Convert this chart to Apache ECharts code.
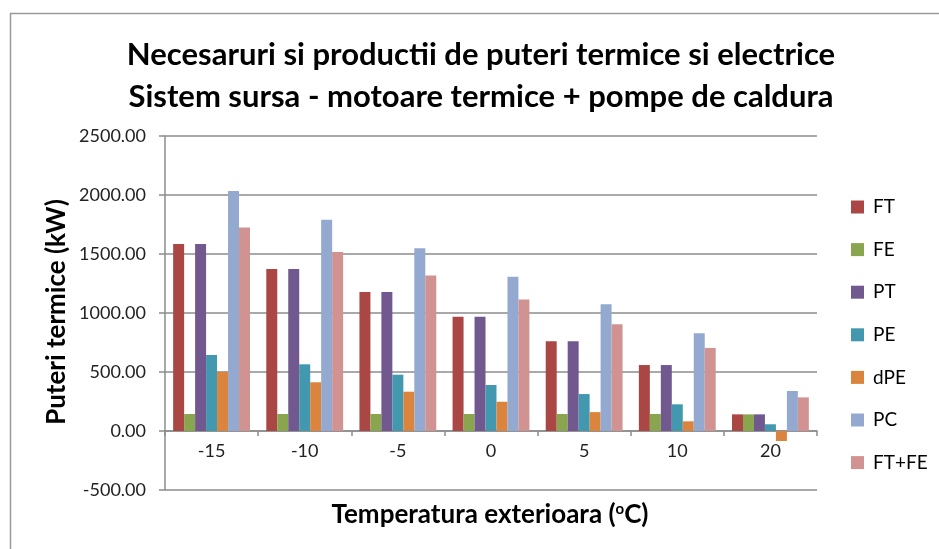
<!DOCTYPE html>
<html><head><meta charset="utf-8">
<script src="https://cdn.jsdelivr.net/npm/echarts@6/dist/echarts.min.js"></script>
<style>html,body{margin:0;padding:0;background:#fff}#c{width:939px;height:549px}</style>
</head><body><div id="c"></div>
<script>
const categories = ['-15', '-10', '-5', '0', '5', '10', '20'];
const seriesNames = ['FT', 'FE', 'PT', 'PE', 'dPE', 'PC', 'FT+FE'];
const FT = [1585, 1373, 1178, 969, 760, 559, 141];
const FE = [144, 144, 144, 144, 144, 144, 141];
const PT = [1585, 1373, 1178, 969, 760, 559, 141];
const PE = [644, 565, 477, 390, 313, 226, 57];
const dPE = [502, 413, 333, 248, 160, 82, -85];
const PC = [2034, 1791, 1548, 1308, 1074, 828, 339];
const FTFE = [1725, 1518, 1318, 1114, 905, 704, 285];
const yTicks = { min: -500, max: 2500, interval: 500 };
const xAxisTitle = 'Temperatura exterioara ({sup|o}C)';
const yAxisTitle = 'Puteri termice (kW)';
const colors = ['#AA4643', '#89A54E', '#71588F', '#4198AF', '#DB843D', '#93A9CF', '#D19392'];
const values = [FT, FE, PT, PE, dPE, PC, FTFE];

const FONT = 'Lato';
const chart = echarts.init(document.getElementById('c'), null, { renderer: 'canvas' });
chart.setOption({
  animation: false,
  color: colors,
  graphic: [{
    type: 'rect', shape: { x: 10.5, y: 13.5, width: 1000, height: 600 },
    style: { fill: 'none', stroke: '#9a9a9a', lineWidth: 1.5 }, silent: true
  }, {
    type: 'text', x: 490, y: 515, silent: true,
    style: {
      text: xAxisTitle, align: 'center', verticalAlign: 'middle',
      font: 'bold 26px Lato', fill: '#000',
      rich: { sup: { fontFamily: FONT, fontWeight: 'bold', fontSize: 15, fill: '#000', verticalAlign: 'top', padding: [0, 0, 12, 0] } }
    }
  }, {
    type: 'text', x: 57, y: 312, rotation: Math.PI / 2, silent: true,
    style: {
      text: yAxisTitle, align: 'center', verticalAlign: 'middle',
      font: 'bold 26px Lato', fill: '#000'
    }
  }],
  title: {
    text: 'Necesaruri si productii de puteri termice si electrice\nSistem sursa - motoare termice + pompe de caldura',
    left: 476, top: 29, textAlign: 'center',
    textStyle: { fontFamily: FONT, fontWeight: 'bold', fontSize: 31, color: '#000', lineHeight: 42 }
  },
  legend: {
    orient: 'vertical', left: 851, top: 196, padding: 0, itemWidth: 13, itemHeight: 13, itemGap: 20.6,
    icon: 'rect',
    textStyle: { fontFamily: FONT, fontSize: 19, color: '#000', padding: [0, 0, 0, 4], lineHeight: 22 },
    data: seriesNames
  },
  grid: { left: 165, right: 122, top: 136, bottom: 59, outerBoundsMode: 'none' },
  xAxis: {
    type: 'category', data: categories,
    axisLine: { onZero: true, lineStyle: { color: '#8c8c8c', width: 1.5 } },
    axisTick: { show: true, length: 5, lineStyle: { color: '#8c8c8c', width: 1.5 } },
    axisLabel: { fontFamily: FONT, fontSize: 18, color: '#222', margin: -48 }
  },
  yAxis: {
    type: 'value', min: yTicks.min, max: yTicks.max, interval: yTicks.interval,
    axisLine: { show: true, lineStyle: { color: '#8c8c8c', width: 1.5 } },
    axisTick: { show: true, length: 6, lineStyle: { color: '#8c8c8c', width: 1.5 } },
    splitLine: { lineStyle: { color: '#8c8c8c', width: 1.5 } },
    axisLabel: { fontFamily: FONT, fontSize: 18, color: '#222', margin: 19, formatter: v => v.toFixed(2) }
  },
  series: seriesNames.map((n, i) => ({
    name: n, type: 'bar', data: values[i], barGap: '0%', barCategoryGap: '17.5%'
  }))
});
</script></body></html>
